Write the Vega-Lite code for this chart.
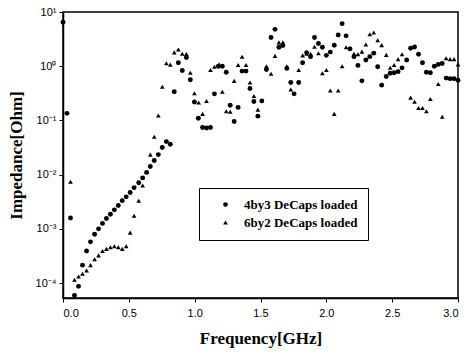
{
  "$schema": "https://vega.github.io/schema/vega-lite/v6.json",
  "width": 395,
  "height": 286,
  "autosize": {"type": "none"},
  "padding": {"left": 63, "top": 12, "right": 7, "bottom": 54},
  "background": "white",
  "config": {"view": {"stroke": "black", "strokeWidth": 1.5}, "font": "Liberation Sans"},
  "datasets": {
    "c": [
      [0.0,6.46],[0.03,0.135],[0.057,0.00158],[0.087,5.9e-5],[0.118,8.7e-5],[0.148,2.14e-4],[0.179,3.89e-4],[0.209,5.75e-4],[0.24,7.94e-4],[0.27,1.0e-3],[0.30,1.26e-3],[0.33,1.55e-3],[0.36,1.86e-3],[0.39,2.24e-3],[0.42,2.69e-3],[0.45,3.31e-3],[0.48,3.89e-3],[0.51,4.68e-3],[0.54,5.75e-3],[0.575,7.08e-3],[0.605,8.71e-3],[0.635,0.011],[0.663,0.0141],[0.693,0.0182],[0.724,0.0234],[0.754,0.0316],[0.785,0.0407],[0.815,0.0363],[0.845,0.339],[0.876,1.16],[0.906,0.832],[0.937,1.45],[0.967,0.562],[0.998,0.219],[1.028,0.110],[1.06,0.0741],[1.09,0.0724],[1.12,0.0741],[1.15,0.309],[1.18,1.0],[1.21,1.0],[1.24,0.776],[1.27,0.191],[1.30,0.0955],[1.33,0.174],[1.36,0.813],[1.39,0.813],[1.42,0.389],[1.45,0.224],[1.48,0.120],[1.51,0.229],[1.545,0.871],[1.58,3.39],[1.61,4.79],[1.64,2.24],[1.67,2.40],[1.70,0.912],[1.73,0.501],[1.755,0.309],[1.79,0.501],[1.82,1.16],[1.85,1.78],[1.88,1.50],[1.91,3.39],[1.94,2.63],[1.97,2.24],[2.00,1.585],[2.03,1.82],[2.06,2.43],[2.09,3.76],[2.12,6.10],[2.15,3.63],[2.18,2.09],[2.21,1.50],[2.24,1.035],[2.27,0.537],[2.30,1.30],[2.33,1.50],[2.36,1.74],[2.39,0.977],[2.42,0.447],[2.455,0.646],[2.485,0.741],[2.515,0.759],[2.545,0.794],[2.575,0.933],[2.61,1.30],[2.64,2.14],[2.67,2.26],[2.70,1.66],[2.73,1.16],[2.76,0.776],[2.79,0.759],[2.82,1.0],[2.85,1.08],[2.88,1.12],[2.91,0.603],[2.94,0.589],[2.97,0.589],[3.0,0.550]
    ],
    "t": [
      [0.057,7.41e-3],[0.087,1.15e-4],[0.118,1.32e-4],[0.148,1.48e-4],[0.179,1.70e-4],[0.209,2.14e-4],[0.24,2.75e-4],[0.27,3.24e-4],[0.30,3.89e-4],[0.33,4.27e-4],[0.36,4.57e-4],[0.39,4.79e-4],[0.42,4.57e-4],[0.45,4.27e-4],[0.48,4.79e-4],[0.51,8.51e-4],[0.54,1.74e-3],[0.575,3.31e-3],[0.605,6.31e-3],[0.635,0.0112],[0.663,0.0234],[0.693,0.0501],[0.724,0.123],[0.754,0.417],[0.785,1.13],[0.815,1.07],[0.845,1.80],[0.876,2.04],[0.906,1.70],[0.937,1.68],[0.967,0.759],[0.998,0.316],[1.03,0.214],[1.06,0.132],[1.09,0.229],[1.12,0.851],[1.15,0.977],[1.185,1.08],[1.21,0.339],[1.24,0.148],[1.27,0.145],[1.30,0.537],[1.33,1.05],[1.36,1.50],[1.39,1.05],[1.42,0.501],[1.45,0.282],[1.48,0.158],[1.545,1.0],[1.58,0.724],[1.61,1.55],[1.64,2.75],[1.67,2.75],[1.70,1.0],[1.73,0.372],[1.79,0.851],[1.82,1.585],[1.85,1.70],[1.88,1.70],[1.91,2.29],[1.94,1.74],[1.97,0.741],[2.00,0.851],[2.03,0.355],[2.06,0.132],[2.09,0.355],[2.12,1.0],[2.15,2.24],[2.18,2.14],[2.21,1.70],[2.24,1.66],[2.27,1.86],[2.30,2.51],[2.33,3.89],[2.36,4.17],[2.39,3.02],[2.42,2.45],[2.455,1.62],[2.485,0.933],[2.515,1.05],[2.545,1.35],[2.575,1.66],[2.64,0.263],[2.67,0.221],[2.70,0.170],[2.73,0.170],[2.76,0.148],[2.79,0.248],[2.85,0.468],[2.88,0.117],[2.91,1.40],[2.94,1.35],[2.97,1.35],[3.0,1.08]
    ]
  },
  "layer": [
    {
      "data": {"name": "c"},
      "transform": [
        {"calculate": "datum[0]", "as": "f"},
        {"calculate": "datum[1]", "as": "z"},
        {"calculate": "'4by3 DeCaps loaded'", "as": "s"}
      ],
      "mark": {"type": "point", "filled": true, "opacity": 1},
      "encoding": {
        "x": {"field": "f", "type": "quantitative"},
        "y": {"field": "z", "type": "quantitative"},
        "shape": {"field": "s", "type": "nominal"},
        "color": {"value": "black"},
        "size": {"value": 24}
      }
    },
    {
      "data": {"name": "t"},
      "transform": [
        {"calculate": "datum[0]", "as": "f"},
        {"calculate": "datum[1]", "as": "z"},
        {"calculate": "'6by2 DeCaps loaded'", "as": "s"}
      ],
      "mark": {"type": "point", "filled": true, "opacity": 1},
      "encoding": {
        "x": {"field": "f", "type": "quantitative"},
        "y": {"field": "z", "type": "quantitative"},
        "shape": {"field": "s", "type": "nominal"},
        "color": {"value": "black"},
        "size": {"value": 22}
      }
    }
  ],
  "resolve": {"scale": {"shape": "shared"}},
  "encoding": {
    "x": {
      "field": "f", "type": "quantitative",
      "scale": {"domain": [0, 3], "nice": false},
      "axis": {
        "title": "Frequency[GHz]", "values": [0, 0.5, 1, 1.5, 2, 2.5, 3], "format": ".1f",
        "grid": false, "domainColor": "black", "domainWidth": 1.5,
        "tickColor": "black", "tickSize": 4, "labelFontSize": 11, "labelColor": "black", "labelPadding": 5,
        "titleFont": "Liberation Serif", "titleFontSize": 17, "titleFontWeight": "bold", "titleColor": "black", "titlePadding": 12
      }
    },
    "y": {
      "field": "z", "type": "quantitative",
      "scale": {"type": "log", "domain": [5.3e-5, 10], "nice": false},
      "axis": {
        "title": "Impedance[Ohm]", "values": [0.0001, 0.001, 0.01, 0.1, 1, 10],
        "labelExpr": "['10⁻⁴','10⁻³','10⁻²','10⁻¹','10⁰','10¹'][round(log(datum.value)/LN10)+4]",
        "grid": false, "domainColor": "black", "domainWidth": 1.5,
        "tickColor": "black", "tickSize": 4, "labelFontSize": 11, "labelColor": "black", "labelPadding": 3,
        "titleFont": "Liberation Serif", "titleFontSize": 17, "titleFontWeight": "bold", "titleColor": "black", "titlePadding": 10
      }
    },
    "shape": {
      "field": "s", "type": "nominal",
      "scale": {"domain": ["4by3 DeCaps loaded", "6by2 DeCaps loaded"], "range": ["circle", "triangle-up"]},
      "legend": {
        "title": null, "orient": "none", "legendX": 136, "legendY": 176,
        "strokeColor": "black", "padding": 10, "fillColor": "white",
        "labelFont": "Liberation Serif", "labelFontWeight": "bold", "labelFontSize": 13, "labelColor": "black",
        "symbolFillColor": "black", "symbolStrokeColor": "black", "symbolSize": 22, "symbolOffset": 10, "labelOffset": 12, "rowPadding": 4
      }
    }
  }
}
